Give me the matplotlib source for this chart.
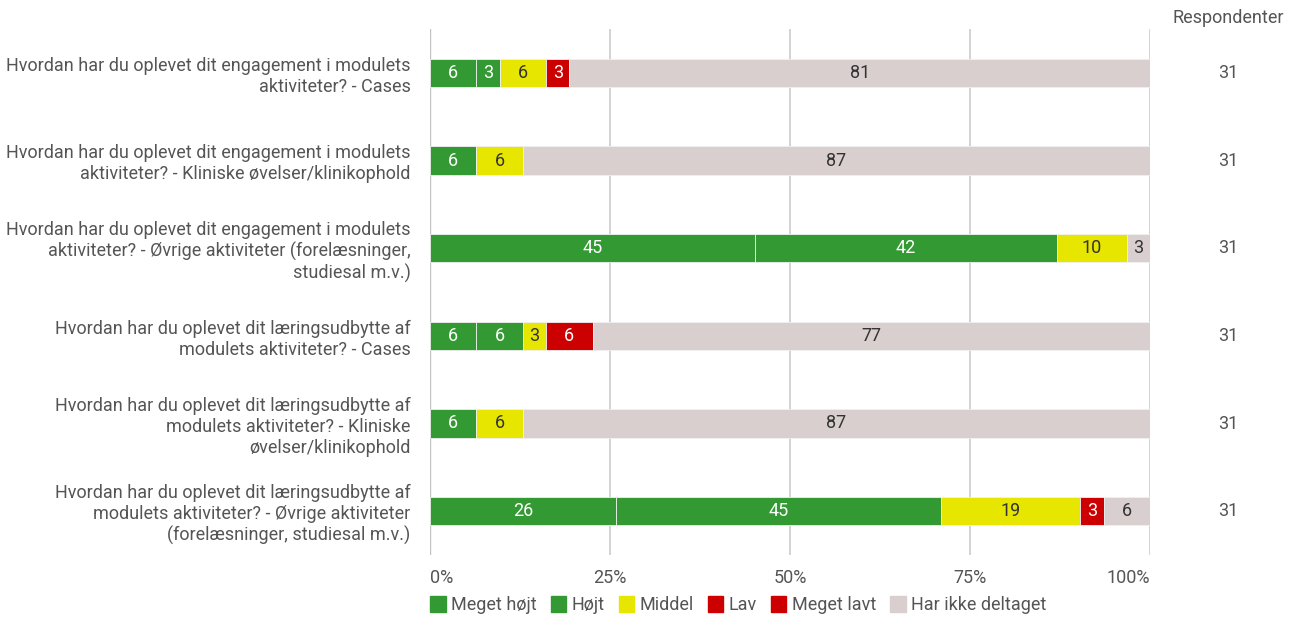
import matplotlib.pyplot as plt
import numpy as np
from matplotlib.patches import Patch

plt.rcParams['font.family'] = ['Roboto', 'DejaVu Sans']

questions = [
    "Hvordan har du oplevet dit engagement i modulets\naktiviteter? - Cases",
    "Hvordan har du oplevet dit engagement i modulets\naktiviteter? - Kliniske øvelser/klinikophold",
    "Hvordan har du oplevet dit engagement i modulets\naktiviteter? - Øvrige aktiviteter (forelæsninger,\nstudiesal m.v.)",
    "Hvordan har du oplevet dit læringsudbytte af\nmodulets aktiviteter? - Cases",
    "Hvordan har du oplevet dit læringsudbytte af\nmodulets aktiviteter? - Kliniske\nøvelser/klinikophold",
    "Hvordan har du oplevet dit læringsudbytte af\nmodulets aktiviteter? - Øvrige aktiviteter\n(forelæsninger, studiesal m.v.)",
]
categories = ["Meget højt", "Højt", "Middel", "Lav", "Meget lavt", "Har ikke deltaget"]

# percent per category, one list per category (rows follow questions)
meget_hojt = [6.45, 6.45, 45.16, 6.45, 6.45, 25.81]
hojt = [3.23, 0, 41.94, 6.45, 0, 45.16]
middel = [6.45, 6.45, 9.68, 3.23, 6.45, 19.35]
lav = [3.23, 0, 0, 6.45, 0, 3.23]
meget_lavt = [0, 0, 0, 0, 0, 0]
ikke_deltaget = [80.65, 87.10, 3.23, 77.42, 87.10, 6.45]
respondenter = [31, 31, 31, 31, 31, 31]

series = [meget_hojt, hojt, middel, lav, meget_lavt, ikke_deltaget]
colors = ["#339933", "#339933", "#e6e600", "#cc0000", "#cc0000", "#d9cfcf"]
text_colors = ["white", "white", "#333333", "white", "white", "#333333"]

fs = 13

fig = plt.figure(figsize=(12.98, 6.21), dpi=100)
ax = fig.add_axes([430 / 1298, 1 - 555 / 621, 720 / 1298, 526 / 621])

y = np.arange(len(questions))
left = np.zeros(len(questions))
for vals, col, tcol in zip(series, colors, text_colors):
    vals = np.array(vals, dtype=float)
    ax.barh(y, vals, left=left, height=0.32, color=col, edgecolor="#f0f0f0",
            linewidth=0.6, zorder=3)
    for yi, (l, v) in enumerate(zip(left, vals)):
        if v > 0:
            ax.text(l + v / 2, yi, f"{round(v)}", ha="center", va="center",
                    color=tcol, fontsize=fs, zorder=4)
    left += vals

ax.set_xlim(0, 100)
ax.set_ylim(len(questions) - 0.5, -0.5)
ax.set_xticks([0, 25, 50, 75, 100])
ax.set_xticklabels(["0%", "25%", "50%", "75%", "100%"], color="#555555", fontsize=fs)
xt = ax.get_xticklabels()
xt[0].set_ha("left")
xt[-1].set_ha("right")
ax.set_yticks(y)
ax.set_yticklabels(questions, color="#555555", fontsize=fs, linespacing=1.2)
ax.tick_params(axis="x", length=0, pad=10)
ax.tick_params(axis="y", length=0, pad=14)
ax.xaxis.grid(True, color="#cccccc", linewidth=1.2, zorder=0)
ax.axvline(0, color="#999999", linewidth=1.6, zorder=1)
for s in ax.spines.values():
    s.set_visible(False)

fig.text(1228 / 1298, 1 - 18 / 621, "Respondenter", ha="center", va="center",
         color="#555555", fontsize=fs)
for yi, n in enumerate(respondenter):
    fig.text(1228 / 1298, 1 - (73 + yi * 87.7) / 621, str(n), ha="center", va="center",
             color="#555555", fontsize=fs)

handles = [Patch(facecolor=c, edgecolor=c, label=lab) for c, lab in zip(colors, categories)]
leg = fig.legend(handles=handles, loc="center left", ncol=6,
                 bbox_to_anchor=(423 / 1298, 1 - 605 / 621), frameon=False,
                 handlelength=0.85, handleheight=1.0, handletextpad=0.3,
                 columnspacing=0.78, fontsize=fs, borderaxespad=0)
for t in leg.get_texts():
    t.set_color("#555555")

fig.savefig("out.png", dpi=100)
